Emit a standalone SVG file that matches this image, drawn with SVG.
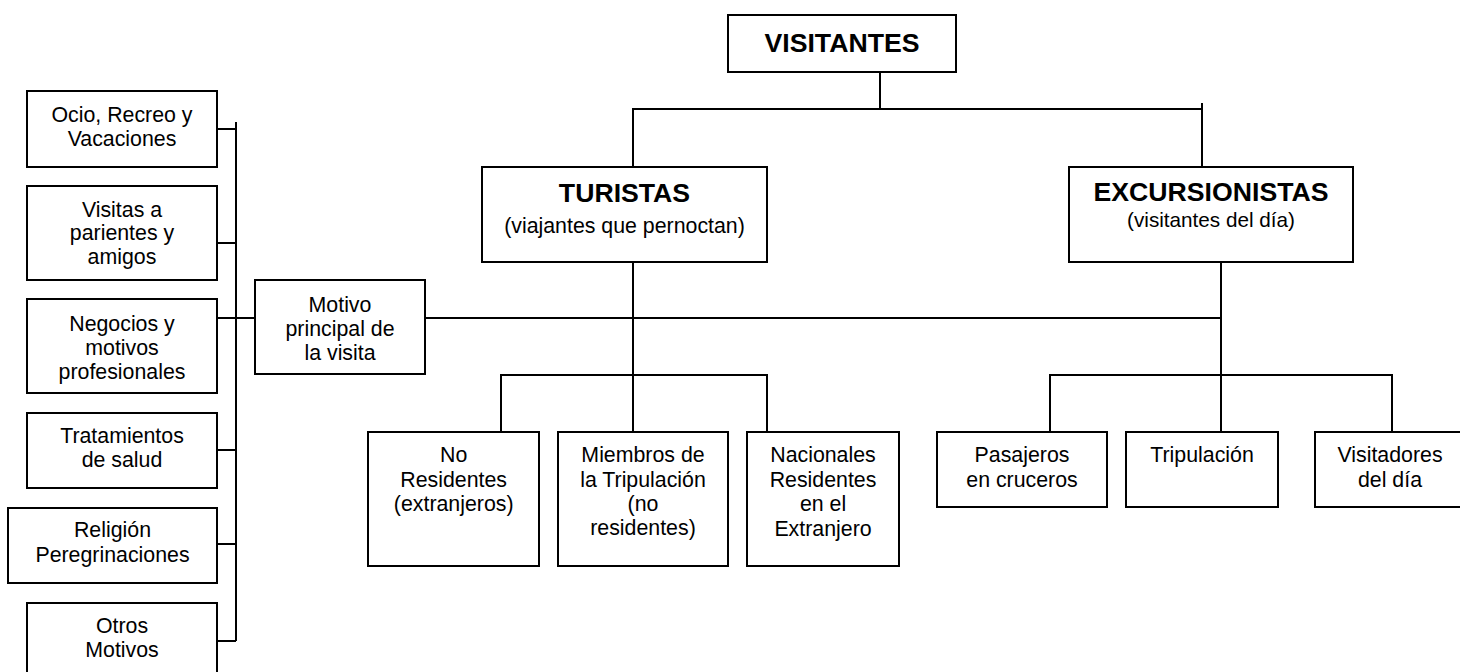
<svg xmlns="http://www.w3.org/2000/svg" width="1460" height="672" viewBox="0 0 1460 672">
<style>
.box{fill:#fff;stroke:#000;stroke-width:2}
.ln{fill:none;stroke:#000;stroke-width:2}
text{font-family:"Liberation Sans",Arial,sans-serif;fill:#000;text-anchor:middle}
.t{font-size:21.33px}
.s{font-size:20.7px}
.b{font-size:26.67px;font-weight:bold}
</style>
<rect width="1460" height="672" fill="#fff"/>
<g id="connectors" class="ln">
<path d="M880 72V109M633 167V109H1202M1202 103V167"/>
<path d="M633 262V432M501 432V375H767V432"/>
<path d="M1221 262V432M1050 432V375H1392V432"/>
<path d="M236 122V641M217 129H236M217 243H236M217 318H255M217 450H236M217 544H236M217 641H236"/>
<path d="M425 318H1221"/>
</g>
<g id="visitantes"><rect class="box" x="728" y="15" width="228" height="57"/><text class="b" x="842" y="52">VISITANTES</text></g>
<g id="turistas"><rect class="box" x="482" y="167" width="285" height="95"/><text class="b" x="624.5" y="202">TURISTAS</text><text class="t" x="624.5" y="233">(viajantes que pernoctan)</text></g>
<g id="excursionistas"><rect class="box" x="1069" y="167" width="284" height="95"/><text class="b" x="1211" y="201">EXCURSIONISTAS</text><text class="s" x="1211" y="227">(visitantes del día)</text></g>
<g id="ocio"><rect class="box" x="27" y="91" width="190" height="76"/><text class="t" x="122" y="121.7">Ocio, Recreo y</text><text class="t" x="122" y="145.5">Vacaciones</text></g>
<g id="visitas"><rect class="box" x="27" y="186" width="190" height="94"/><text class="t" x="122" y="216.7">Visitas a</text><text class="t" x="122" y="240">parientes y</text><text class="t" x="122" y="263.5">amigos</text></g>
<g id="negocios"><rect class="box" x="27" y="299" width="190" height="94"/><text class="t" x="122" y="330.5">Negocios y</text><text class="t" x="122" y="354.5">motivos</text><text class="t" x="122" y="378.5">profesionales</text></g>
<g id="tratamientos"><rect class="box" x="27" y="413" width="190" height="75"/><text class="t" x="122" y="442.7">Tratamientos</text><text class="t" x="122" y="466.7">de salud</text></g>
<g id="religion"><rect class="box" x="8" y="508" width="209" height="75"/><text class="t" x="112.5" y="536.7">Religión</text><text class="t" x="112.5" y="561.5">Peregrinaciones</text></g>
<g id="otros"><rect class="box" x="27" y="603" width="190" height="80"/><text class="t" x="122" y="633">Otros</text><text class="t" x="122" y="656.7">Motivos</text></g>
<g id="motivo"><rect class="box" x="255" y="280" width="170" height="94"/><text class="t" x="340" y="311.7">Motivo</text><text class="t" x="340" y="336">principal de</text><text class="t" x="340" y="360">la visita</text></g>
<g id="no-residentes"><rect class="box" x="368" y="432" width="171" height="134"/><text class="t" x="453.7" y="461.7">No</text><text class="t" x="453.7" y="486.7">Residentes</text><text class="t" x="453.7" y="510.7">(extranjeros)</text></g>
<g id="miembros"><rect class="box" x="558" y="432" width="170" height="134"/><text class="t" x="643" y="461.7">Miembros de</text><text class="t" x="643" y="486.7">la Tripulación</text><text class="t" x="643" y="511">(no</text><text class="t" x="643" y="535">residentes)</text></g>
<g id="nacionales"><rect class="box" x="747" y="432" width="152" height="134"/><text class="t" x="823" y="461.7">Nacionales</text><text class="t" x="823" y="486.7">Residentes</text><text class="t" x="823" y="510.7">en el</text><text class="t" x="823" y="535.5">Extranjero</text></g>
<g id="pasajeros"><rect class="box" x="937" y="432" width="170" height="75"/><text class="t" x="1022" y="461.7">Pasajeros</text><text class="t" x="1022" y="486.7">en cruceros</text></g>
<g id="tripulacion"><rect class="box" x="1126" y="432" width="152" height="75"/><text class="t" x="1202" y="461.7">Tripulación</text></g>
<g id="visitadores"><rect class="box" x="1315" y="432" width="150" height="75"/><text class="t" x="1390" y="461.7">Visitadores</text><text class="t" x="1390" y="486.7">del día</text></g>
</svg>
